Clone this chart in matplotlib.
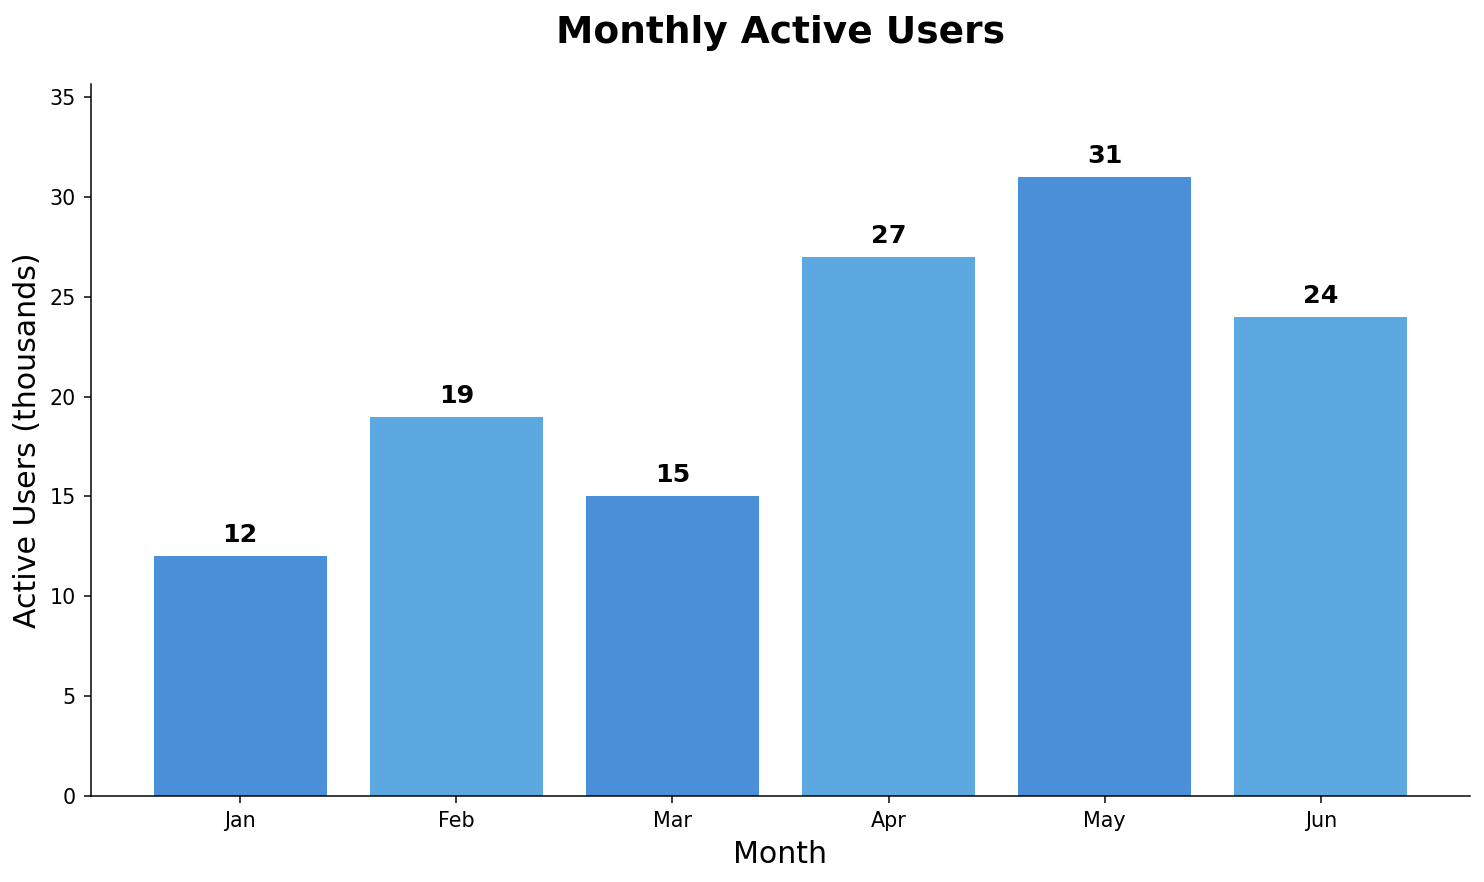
import matplotlib
matplotlib.use("Agg")
import matplotlib.pyplot as plt

months = ["Jan", "Feb", "Mar", "Apr", "May", "Jun"]
users = [12, 19, 15, 27, 31, 24]
colors = ["#4A90D9", "#5DA8E0", "#4A90D9", "#5DA8E0", "#4A90D9", "#5DA8E0"]

DPI = 135
fig = plt.figure(figsize=(1484 / DPI, 882 / DPI), dpi=DPI)
ax = fig.add_axes([91 / 1484, 1 - 796 / 882, (1470 - 91) / 1484, (796 - 84) / 882])
bars = ax.bar(months, users, color=colors, width=0.8)
for b, v in zip(bars, users):
    ax.text(b.get_x() + b.get_width() / 2, v + 0.45, f"{v}", ha="center", va="bottom",
            fontsize=13.5, fontweight="bold")
ax.set_ylim(0, max(users) * 1.15)
ax.set_title("Monthly Active Users", fontsize=20, fontweight="bold", pad=22)
ax.set_xlabel("Month", fontsize=16, labelpad=5)
ax.set_ylabel("Active Users (thousands)", fontsize=16)
ax.tick_params(labelsize=11, pad=4.5)
ax.spines["top"].set_visible(False)
ax.spines["right"].set_visible(False)
fig.savefig("out.png", dpi=DPI)
